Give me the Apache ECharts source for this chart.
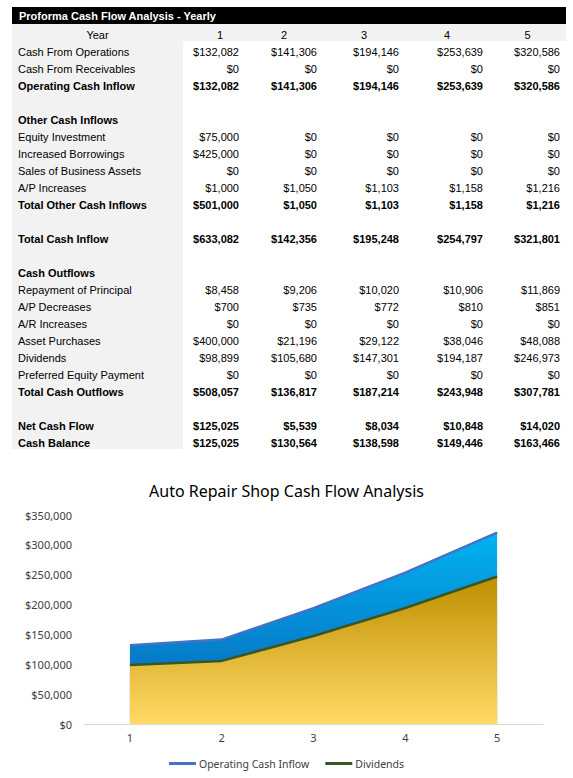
<!DOCTYPE html>
<html>
<head>
<meta charset="utf-8">
<title>Auto Repair Shop Cash Flow Analysis</title>
<script src="https://cdn.jsdelivr.net/npm/echarts@6/dist/echarts.min.js"></script>
<style>
  html, body { margin: 0; padding: 0; background: #fff; }
  body { width: 573px; height: 778px; position: relative; overflow: hidden; }
  #sheet { position: absolute; left: 12px; top: 7px; width: 554px;
           font-family: 'Liberation Sans', Arial, sans-serif; font-size: 11px; color: #000; }
  #sheet .bar { height: 17px; line-height: 19px; background: #000; color: #fff;
                font-weight: bold; padding-left: 7px; box-sizing: border-box; }
  #sheet table { border-collapse: collapse; table-layout: fixed; width: 554px; }
  #sheet td { height: 11px; padding: 6px 6px 0 0; line-height: 11px; white-space: nowrap;
              text-align: right; overflow: visible; }
  #sheet td.lbl { background: #f2f2f2; text-align: left; padding-left: 6px; }
  #sheet tr.yr td { background: #f2f2f2; text-align: center; padding-right: 0; }
  #sheet tr.b td { font-weight: bold; }
  #chart { position: absolute; left: 0; top: 460px; width: 573px; height: 318px; }
</style>
</head>
<body>
<div id="sheet"></div>
<div id="chart"></div>
<script>
// 年份 / 表格数据
var years = ['1', '2', '3', '4', '5'];
var cashFromOperations   = [132082, 141306, 194146, 253639, 320586];
var cashFromReceivables  = [0, 0, 0, 0, 0];
var operatingCashInflow  = [132082, 141306, 194146, 253639, 320586];
var equityInvestment     = [75000, 0, 0, 0, 0];
var increasedBorrowings  = [425000, 0, 0, 0, 0];
var salesOfAssets        = [0, 0, 0, 0, 0];
var apIncreases          = [1000, 1050, 1103, 1158, 1216];
var totalOtherInflows    = [501000, 1050, 1103, 1158, 1216];
var totalCashInflow      = [633082, 142356, 195248, 254797, 321801];
var repaymentOfPrincipal = [8458, 9206, 10020, 10906, 11869];
var apDecreases          = [700, 735, 772, 810, 851];
var arIncreases          = [0, 0, 0, 0, 0];
var assetPurchases       = [400000, 21196, 29122, 38046, 48088];
var dividends            = [98899, 105680, 147301, 194187, 246973];
var preferredEquity      = [0, 0, 0, 0, 0];
var totalCashOutflows    = [508057, 136817, 187214, 243948, 307781];
var netCashFlow          = [125025, 5539, 8034, 10848, 14020];
var cashBalance          = [125025, 130564, 138598, 149446, 163466];

// 图表坐标轴
var yMin = 0, yMax = 350000, yStep = 50000;

function money(n) {
  return '$' + n.toLocaleString('en-US');
}

// 表格行: [名称, 数据, 是否加粗]
var rows = [
  ['Cash From Operations', cashFromOperations, false],
  ['Cash From Receivables', cashFromReceivables, false],
  ['Operating Cash Inflow', operatingCashInflow, true],
  null,
  ['Other Cash Inflows', null, true],
  ['Equity Investment', equityInvestment, false],
  ['Increased Borrowings', increasedBorrowings, false],
  ['Sales of Business Assets', salesOfAssets, false],
  ['A/P Increases', apIncreases, false],
  ['Total Other Cash Inflows', totalOtherInflows, true],
  null,
  ['Total Cash Inflow', totalCashInflow, true],
  null,
  ['Cash Outflows', null, true],
  ['Repayment of Principal', repaymentOfPrincipal, false],
  ['A/P Decreases', apDecreases, false],
  ['A/R Increases', arIncreases, false],
  ['Asset Purchases', assetPurchases, false],
  ['Dividends', dividends, false],
  ['Preferred Equity Payment', preferredEquity, false],
  ['Total Cash Outflows', totalCashOutflows, true],
  null,
  ['Net Cash Flow', netCashFlow, true],
  ['Cash Balance', cashBalance, true]
];

var colW = [171, 62, 78, 82, 84, 77];
var html = '<div class="bar">Proforma Cash Flow Analysis - Yearly</div><table><colgroup>';
for (var c = 0; c < colW.length; c++) html += '<col style="width:' + colW[c] + 'px">';
html += '</colgroup>';
html += '<tr class="yr"><td>Year</td>';
for (var i = 0; i < years.length; i++) {
  html += '<td' + (i === 0 ? ' style="padding-left:12px"' : '') + '>' + years[i] + '</td>';
}
html += '</tr>';
for (var r = 0; r < rows.length; r++) {
  var row = rows[r];
  if (!row) {
    html += '<tr><td class="lbl"></td><td></td><td></td><td></td><td></td><td></td></tr>';
    continue;
  }
  html += '<tr' + (row[2] ? ' class="b"' : '') + '><td class="lbl">' + row[0] + '</td>';
  for (var j = 0; j < 5; j++) {
    html += '<td>' + (row[1] ? money(row[1][j]) : '') + '</td>';
  }
  html += '</tr>';
}
html += '</table>';
document.getElementById('sheet').innerHTML = html;

// 面积图
var myChart = echarts.init(document.getElementById('chart'), null, { renderer: 'svg' });
var font = "'Noto Sans', 'Open Sans', sans-serif";
var option = {
  backgroundColor: '#fff',
  animation: false,
  title: {
    text: 'Auto Repair Shop Cash Flow Analysis',
    left: 'center',
    top: 18,
    textStyle: { fontFamily: font, fontWeight: 'normal', fontSize: 16, color: '#000' }
  },
  legend: {
    bottom: 4,
    left: 'center',
    icon: 'rect',
    itemWidth: 27,
    itemHeight: 3,
    itemGap: 16,
    textStyle: { fontFamily: font, fontSize: 10.5, color: '#404040', padding: [0, 0, 0, -2] },
    data: ['Operating Cash Inflow', 'Dividends']
  },
  grid: { left: 84, right: 30, top: 55, bottom: 54 },
  xAxis: {
    type: 'category',
    boundaryGap: true,
    data: years,
    axisLine: { lineStyle: { color: '#d9d9d9', width: 1 } },
    axisTick: { show: false },
    axisLabel: { fontFamily: font, fontSize: 11, color: '#404040', margin: 8 }
  },
  yAxis: {
    type: 'value',
    min: yMin,
    max: yMax,
    interval: yStep,
    axisLine: { show: false },
    axisTick: { show: false },
    splitLine: { show: false },
    axisLabel: {
      fontFamily: font, fontSize: 11, color: '#404040', margin: 12,
      formatter: function (v) { return money(v); }
    }
  },
  series: [{
    name: 'Operating Cash Inflow',
    type: 'line',
    symbol: 'none',
    data: operatingCashInflow,
    itemStyle: { color: '#4472c4' },
    lineStyle: { color: '#4472c4', width: 2.5 },
    areaStyle: {
      opacity: 1,
      color: new echarts.graphic.LinearGradient(0, 0, 0, 1, [
        { offset: 0, color: '#00b3f0' },
        { offset: 1, color: '#0a5fb5' }
      ])
    },
    z: 2
  }, {
    name: 'Dividends',
    type: 'line',
    symbol: 'none',
    data: dividends,
    itemStyle: { color: '#375623' },
    lineStyle: { color: '#375623', width: 2.5 },
    areaStyle: {
      opacity: 1,
      color: new echarts.graphic.LinearGradient(0, 0, 0, 1, [
        { offset: 0, color: '#bf8f00' },
        { offset: 1, color: '#ffd966' }
      ])
    },
    z: 3
  }]
};
myChart.setOption(option);
</script>
</body>
</html>
